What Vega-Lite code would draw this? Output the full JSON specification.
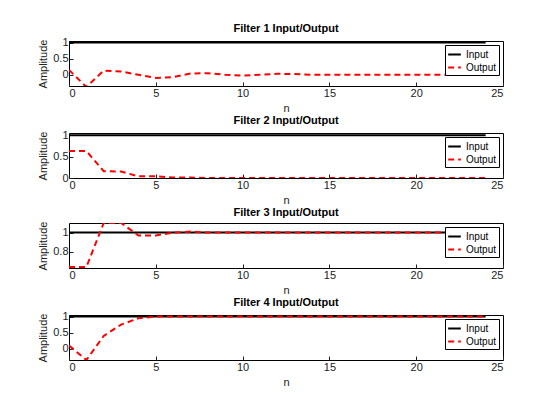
{
  "$schema": "https://vega.github.io/schema/vega-lite/v6.json",
  "padding": {"left": 37, "top": 22, "right": 10, "bottom": 5},
  "background": "white",
  "spacing": 0,
  "config": {
    "font": "Liberation Sans",
    "view": {"stroke": "black", "strokeWidth": 1},
    "title": {"fontSize": 11, "fontWeight": "bold", "offset": 3, "color": "black"},
    "axis": {"grid": false, "domain": false, "tickSize": -4, "labelFontSize": 11, "titleFontSize": 11, "titleFontWeight": "normal", "labelColor": "#222", "titleColor": "#222", "tickColor": "#222", "labelPadding": 5, "format": "~g"},
    "legend": {"orient": "top-right", "offset": 4, "fillColor": "white", "strokeColor": "black", "padding": 2, "symbolType": "stroke", "symbolSize": 160, "symbolStrokeWidth": 2, "labelFontSize": 10, "rowPadding": 0, "title": null}
  },
  "resolve": {"scale": {"color": "independent", "strokeDash": "independent"}},
  "data": {"values": [
    {"f":1,"s":"Input","n":0,"y":1},{"f":1,"s":"Input","n":24,"y":1},
    {"f":2,"s":"Input","n":0,"y":1},{"f":2,"s":"Input","n":24,"y":1},
    {"f":3,"s":"Input","n":0,"y":1},{"f":3,"s":"Input","n":24,"y":1},
    {"f":4,"s":"Input","n":0,"y":1},{"f":4,"s":"Input","n":24,"y":1},
    {"f":1,"s":"Output","n":0,"y":0.15},{"f":1,"s":"Output","n":1,"y":-0.38},{"f":1,"s":"Output","n":2,"y":0.13},{"f":1,"s":"Output","n":3,"y":0.1},{"f":1,"s":"Output","n":4,"y":0.0},{"f":1,"s":"Output","n":5,"y":-0.1},{"f":1,"s":"Output","n":6,"y":-0.07},{"f":1,"s":"Output","n":7,"y":0.04},{"f":1,"s":"Output","n":8,"y":0.05},{"f":1,"s":"Output","n":9,"y":0.0},{"f":1,"s":"Output","n":10,"y":-0.03},{"f":1,"s":"Output","n":11,"y":0.0},{"f":1,"s":"Output","n":12,"y":0.03},{"f":1,"s":"Output","n":13,"y":0.02},{"f":1,"s":"Output","n":14,"y":0.0},{"f":1,"s":"Output","n":15,"y":0.0},{"f":1,"s":"Output","n":16,"y":0.0},{"f":1,"s":"Output","n":17,"y":0.0},{"f":1,"s":"Output","n":18,"y":0.0},{"f":1,"s":"Output","n":19,"y":0.0},{"f":1,"s":"Output","n":20,"y":0.0},{"f":1,"s":"Output","n":21,"y":0.0},{"f":1,"s":"Output","n":22,"y":0.0},{"f":1,"s":"Output","n":23,"y":0.0},{"f":1,"s":"Output","n":24,"y":0.0},
    {"f":2,"s":"Output","n":0,"y":0.63},{"f":2,"s":"Output","n":1,"y":0.63},{"f":2,"s":"Output","n":2,"y":0.16},{"f":2,"s":"Output","n":3,"y":0.15},{"f":2,"s":"Output","n":4,"y":0.04},{"f":2,"s":"Output","n":5,"y":0.04},{"f":2,"s":"Output","n":6,"y":0.01},{"f":2,"s":"Output","n":7,"y":0.01},{"f":2,"s":"Output","n":8,"y":0.0},{"f":2,"s":"Output","n":9,"y":0.0},{"f":2,"s":"Output","n":10,"y":0.0},{"f":2,"s":"Output","n":11,"y":0.0},{"f":2,"s":"Output","n":12,"y":0.0},{"f":2,"s":"Output","n":13,"y":0.0},{"f":2,"s":"Output","n":14,"y":0.0},{"f":2,"s":"Output","n":15,"y":0.0},{"f":2,"s":"Output","n":16,"y":0.0},{"f":2,"s":"Output","n":17,"y":0.0},{"f":2,"s":"Output","n":18,"y":0.0},{"f":2,"s":"Output","n":19,"y":0.0},{"f":2,"s":"Output","n":20,"y":0.0},{"f":2,"s":"Output","n":21,"y":0.0},{"f":2,"s":"Output","n":22,"y":0.0},{"f":2,"s":"Output","n":23,"y":0.0},{"f":2,"s":"Output","n":24,"y":0.0},
    {"f":3,"s":"Output","n":0,"y":0.64},{"f":3,"s":"Output","n":1,"y":0.64},{"f":3,"s":"Output","n":2,"y":1.1},{"f":3,"s":"Output","n":3,"y":1.1},{"f":3,"s":"Output","n":4,"y":0.97},{"f":3,"s":"Output","n":5,"y":0.97},{"f":3,"s":"Output","n":6,"y":1.0},{"f":3,"s":"Output","n":7,"y":1.01},{"f":3,"s":"Output","n":8,"y":1.0},{"f":3,"s":"Output","n":9,"y":1.0},{"f":3,"s":"Output","n":10,"y":1.0},{"f":3,"s":"Output","n":11,"y":1.0},{"f":3,"s":"Output","n":12,"y":1.0},{"f":3,"s":"Output","n":13,"y":1.0},{"f":3,"s":"Output","n":14,"y":1.0},{"f":3,"s":"Output","n":15,"y":1.0},{"f":3,"s":"Output","n":16,"y":1.0},{"f":3,"s":"Output","n":17,"y":1.0},{"f":3,"s":"Output","n":18,"y":1.0},{"f":3,"s":"Output","n":19,"y":1.0},{"f":3,"s":"Output","n":20,"y":1.0},{"f":3,"s":"Output","n":21,"y":1.0},{"f":3,"s":"Output","n":22,"y":1.0},{"f":3,"s":"Output","n":23,"y":1.0},{"f":3,"s":"Output","n":24,"y":1.0},
    {"f":4,"s":"Output","n":0,"y":0.1},{"f":4,"s":"Output","n":1,"y":-0.35},{"f":4,"s":"Output","n":2,"y":0.4},{"f":4,"s":"Output","n":3,"y":0.75},{"f":4,"s":"Output","n":4,"y":0.95},{"f":4,"s":"Output","n":5,"y":1.0},{"f":4,"s":"Output","n":6,"y":1.0},{"f":4,"s":"Output","n":7,"y":1.0},{"f":4,"s":"Output","n":8,"y":1.0},{"f":4,"s":"Output","n":9,"y":1.0},{"f":4,"s":"Output","n":10,"y":1.0},{"f":4,"s":"Output","n":11,"y":1.0},{"f":4,"s":"Output","n":12,"y":1.0},{"f":4,"s":"Output","n":13,"y":1.0},{"f":4,"s":"Output","n":14,"y":1.0},{"f":4,"s":"Output","n":15,"y":1.0},{"f":4,"s":"Output","n":16,"y":1.0},{"f":4,"s":"Output","n":17,"y":1.0},{"f":4,"s":"Output","n":18,"y":1.0},{"f":4,"s":"Output","n":19,"y":1.0},{"f":4,"s":"Output","n":20,"y":1.0},{"f":4,"s":"Output","n":21,"y":1.0},{"f":4,"s":"Output","n":22,"y":1.0},{"f":4,"s":"Output","n":23,"y":1.0},{"f":4,"s":"Output","n":24,"y":1.0}
  ]},
  "vconcat": [
    {
      "title": "Filter 1 Input/Output", "width": 434, "height": 45,
      "transform": [{"filter": "datum.f == 1"}],
      "mark": {"type": "line", "strokeWidth": 2, "clip": true},
      "encoding": {
        "x": {"field": "n", "type": "quantitative", "scale": {"domain": [0, 25]}, "axis": {"values": [0,5,10,15,20,25]}},
        "y": {"field": "y", "type": "quantitative", "title": "Amplitude", "scale": {"domain": [-0.35, 1.05], "nice": false}, "axis": {"values": [0, 0.5, 1]}},
        "color": {"field": "s", "type": "nominal", "scale": {"domain": ["Input","Output"], "range": ["black","red"]}},
        "strokeDash": {"field": "s", "type": "nominal", "scale": {"domain": ["Input","Output"], "range": [[1,0],[6,4]]}}
      }
    },
    {
      "title": "Filter 2 Input/Output", "width": 434, "height": 45,
      "transform": [{"filter": "datum.f == 2"}],
      "mark": {"type": "line", "strokeWidth": 2, "clip": true},
      "encoding": {
        "x": {"field": "n", "type": "quantitative", "scale": {"domain": [0, 25]}, "axis": {"values": [0,5,10,15,20,25]}},
        "y": {"field": "y", "type": "quantitative", "title": "Amplitude", "scale": {"domain": [0, 1.05], "nice": false}, "axis": {"values": [0, 0.5, 1]}},
        "color": {"field": "s", "type": "nominal", "scale": {"domain": ["Input","Output"], "range": ["black","red"]}},
        "strokeDash": {"field": "s", "type": "nominal", "scale": {"domain": ["Input","Output"], "range": [[1,0],[6,4]]}}
      }
    },
    {
      "title": "Filter 3 Input/Output", "width": 434, "height": 45,
      "transform": [{"filter": "datum.f == 3"}],
      "mark": {"type": "line", "strokeWidth": 2, "clip": true},
      "encoding": {
        "x": {"field": "n", "type": "quantitative", "scale": {"domain": [0, 25]}, "axis": {"values": [0,5,10,15,20,25]}},
        "y": {"field": "y", "type": "quantitative", "title": "Amplitude", "scale": {"domain": [0.63, 1.1], "nice": false, "zero": false}, "axis": {"values": [0.8, 1]}},
        "color": {"field": "s", "type": "nominal", "scale": {"domain": ["Input","Output"], "range": ["black","red"]}},
        "strokeDash": {"field": "s", "type": "nominal", "scale": {"domain": ["Input","Output"], "range": [[1,0],[6,4]]}}
      }
    },
    {
      "title": "Filter 4 Input/Output", "width": 434, "height": 45,
      "transform": [{"filter": "datum.f == 4"}],
      "mark": {"type": "line", "strokeWidth": 2, "clip": true},
      "encoding": {
        "x": {"field": "n", "type": "quantitative", "scale": {"domain": [0, 25]}, "axis": {"values": [0,5,10,15,20,25]}},
        "y": {"field": "y", "type": "quantitative", "title": "Amplitude", "scale": {"domain": [-0.35, 1.05], "nice": false}, "axis": {"values": [0, 0.5, 1]}},
        "color": {"field": "s", "type": "nominal", "scale": {"domain": ["Input","Output"], "range": ["black","red"]}},
        "strokeDash": {"field": "s", "type": "nominal", "scale": {"domain": ["Input","Output"], "range": [[1,0],[6,4]]}}
      }
    }
  ]
}
